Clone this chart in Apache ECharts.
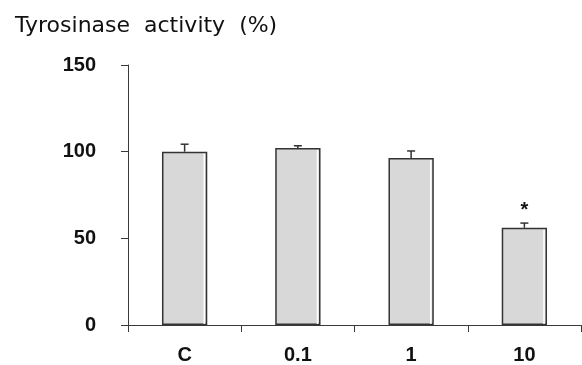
<!DOCTYPE html>
<html>
<head>
<meta charset="utf-8">
<script src="https://cdn.jsdelivr.net/npm/echarts@6/dist/echarts.min.js"></script>
<style>html,body{margin:0;padding:0;background:#fff}#c{width:582px;height:365px}</style>
</head>
<body>
<div id="c"></div>
<script>
const categories = ['C', '0.1', '1', '10'];
const values = [100, 102.1, 96.4, 56.1];
const errors = [4.3, 1.3, 4.0, 2.7];
const marks = ['', '', '', '*'];
const yTicks = [0, 50, 100, 150];
const titleWords = ['Tyrosinase', 'activity', '(%)'];

const chart = echarts.init(document.getElementById('c'), null, {renderer: 'canvas'});
const axisColor = '#3a3a3a';
chart.setOption({
  animation: false,
  backgroundColor: '#fff',
  title: {
    text: titleWords.map(w => '{w|' + w + '}').join('{s| }'),
    left: 10, top: 10,
    textStyle: {
      fontFamily: 'DejaVu Sans', fontWeight: 'normal', fontSize: 22, color: '#111',
      rich: {
        w: {fontFamily: 'DejaVu Sans', fontSize: 22, color: '#111'},
        s: {fontFamily: 'DejaVu Sans', fontSize: 22, padding: [0, 4, 0, 3]}
      }
    }
  },
  grid: {left: 128, right: 1, top: 65, bottom: 39, containLabel: false},
  xAxis: {
    type: 'category',
    data: categories,
    boundaryGap: true,
    axisLine: {lineStyle: {color: axisColor, width: 1}},
    axisTick: {show: true, length: 7, alignWithLabel: false, lineStyle: {color: axisColor}},
    axisLabel: {margin: 20, fontFamily: 'Liberation Sans', fontWeight: 'bold', fontSize: 20, color: '#111'}
  },
  yAxis: {
    type: 'value',
    min: yTicks[0], max: yTicks[yTicks.length - 1], interval: 50,
    splitLine: {show: false},
    axisLine: {show: true, lineStyle: {color: axisColor, width: 1}},
    axisTick: {show: true, length: 7, lineStyle: {color: axisColor}},
    axisLabel: {margin: 32, fontFamily: 'Liberation Sans', fontWeight: 'bold', fontSize: 20, color: '#111'}
  },
  series: [
    {
      type: 'bar',
      data: values,
      barWidth: '40%',
      itemStyle: {color: '#d8d8d8', borderColor: '#333', borderWidth: 1.5}
    },
    {
      type: 'custom',
      data: values.map((v, i) => [i, v, errors[i], marks[i]]),
      renderItem: function (params, api) {
        const i = api.value(0);
        const v = api.value(1);
        const e = api.value(2);
        const base = api.coord([i, v]);
        const top = api.coord([i, v + e]);
        const band = api.size([1, 0])[0];
        const bw = band * 0.4;
        const cap = 4;
        const children = [
          {type: 'line', shape: {x1: base[0], y1: base[1], x2: top[0], y2: top[1]}, style: {stroke: '#333', lineWidth: 1.5}},
          {type: 'line', shape: {x1: top[0] - cap, y1: top[1], x2: top[0] + cap, y2: top[1]}, style: {stroke: '#333', lineWidth: 1.5}},
          {type: 'line', shape: {x1: base[0] + bw / 2 - 3, y1: base[1] + 2, x2: base[0] + bw / 2 - 3, y2: api.coord([i, 0])[1] - 1}, style: {stroke: '#fff', lineWidth: 1.5}}
        ];
        const m = marks[params.dataIndex];
        if (m) {
          children.push({type: 'text', style: {text: m, x: top[0], y: top[1] - 13, align: 'center', verticalAlign: 'middle', fontFamily: 'Liberation Sans', fontWeight: 'bold', fontSize: 20, fill: '#111'}});
        }
        return {type: 'group', children: children};
      },
      z: 5
    }
  ]
});
</script>
</body>
</html>
